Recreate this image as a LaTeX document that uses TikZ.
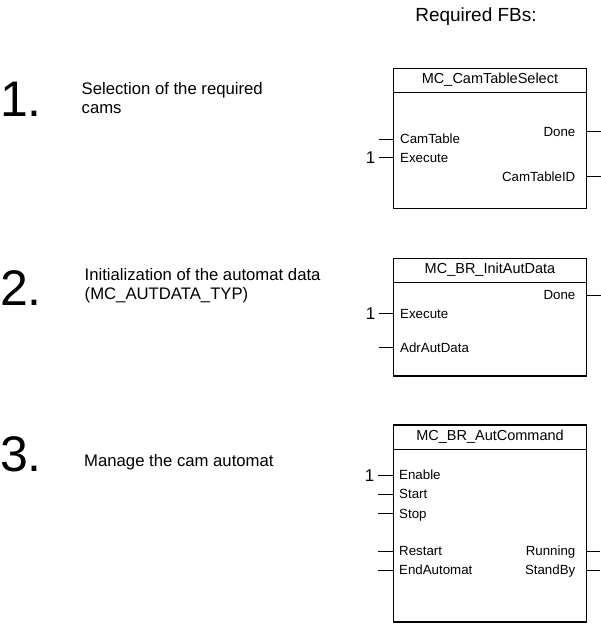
\documentclass[tikz,border=0pt]{standalone}
\usepackage{fontspec}
\setmainfont{Liberation Sans}
\usetikzlibrary{positioning,calc}

\begin{document}
\begin{tikzpicture}
  [ x=1pt, y=-1pt,
    fb/.style={
      rectangle,
      draw,
      line width=1.5pt,
      minimum width=193pt,
      inner sep=0pt},
    fbname/.style={
      inner sep=0pt,
      font=\fontsize{14.5}{16}\selectfont},
    inpin/.style={
      anchor=west,
      inner sep=0pt,
      text height=9.5pt,
      text depth=0pt,
      font=\fontsize{13.3}{15}\selectfont},
    outpin/.style={
      anchor=east,
      inner sep=0pt,
      text height=9.5pt,
      text depth=0pt,
      font=\fontsize{13.3}{15}\selectfont},
    one/.style={
      anchor=east,
      inner sep=0pt,
      text height=12pt,
      text depth=0pt,
      font=\fontsize{17}{19}\selectfont},
    stepnum/.style={
      anchor=base west,
      inner sep=0pt,
      font=\fontsize{50}{52}\selectfont},
    steptext/.style={
      anchor=base west,
      inner sep=0pt,
      font=\fontsize{16.7}{19}\selectfont},
    pinline/.style={
      draw,
      line width=0.9pt},
  ]
  \useasboundingbox (0,0) rectangle (600,624);

  \node (title) [anchor=base, inner sep=0pt, font=\fontsize{19}{21}\selectfont]
    at (476,21) {Required FBs:};

  % step 1
  \node (num1) [stepnum] at (0,116.7) {1.};
  \node (text1a) [steptext] at (81.5,94.3) {Selection of the required};
  \node (text1b) [steptext] at (81.5,113.3) {cams};

  \node (select) [fb, minimum height=140pt] at (490,138.3) {};
  \draw [line width=0.9pt] ($(select.north west)+(0,24.5)$) -- ($(select.north east)+(0,24.5)$);
  \node (selectname) [fbname] at ($(select.north)+(0,12.5)$) {MC\_CamTableSelect};
  \node (camtable) [inpin] at (400,139) {CamTable};
  \node (execute1) [inpin] at (400,157.7) {Execute};
  \node (done1) [outpin] at (575.5,131.7) {Done};
  \node (tableid) [outpin] at (575.5,176.7) {CamTableID};
  \draw [pinline] (select.west |- camtable) -- ++(-14,0);
  \draw [pinline] (select.west |- execute1) -- ++(-14,0) node (one1) [one, left=3pt] {1};
  \draw [pinline] (select.east |- done1) -- ++(14,0);
  \draw [pinline] (select.east |- tableid) -- ++(14,0);

  % step 2
  \node (num2) [stepnum] at (0,305) {2.};
  \node (text2a) [steptext] at (84.5,280) {Initialization of the automat data};
  \node (text2b) [steptext] at (84.5,299) {(MC\_AUTDATA\_TYP)};

  \node (init) [fb, minimum height=117.7pt] at (490,317.2) {};
  \draw [line width=0.9pt] ($(init.north west)+(0,25)$) -- ($(init.north east)+(0,25)$);
  \node (initname) [fbname] at ($(init.north)+(0,12.5)$) {MC\_BR\_InitAutData};
  \node (execute2) [inpin] at (400,313.3) {Execute};
  \node (adr) [inpin] at (400,347.3) {AdrAutData};
  \node (done2) [outpin] at (575.5,295) {Done};
  \draw [pinline] (init.west |- execute2) -- ++(-14,0) node (one2) [one, left=3pt] {1};
  \draw [pinline] (init.west |- adr) -- ++(-14,0);
  \draw [pinline] (init.east |- done2) -- ++(14,0);

  % step 3
  \node (num3) [stepnum] at (0,471.7) {3.};
  \node (text3) [steptext] at (84,466.7) {Manage the cam automat};

  \node (command) [fb, minimum height=196.7pt] at (490,523.4) {};
  \draw [line width=0.9pt] ($(command.north west)+(0,25)$) -- ($(command.north east)+(0,25)$);
  \node (commandname) [fbname] at ($(command.north)+(0,12.5)$) {MC\_BR\_AutCommand};
  \node (enable) [inpin] at (399,475) {Enable};
  \node (start) [inpin] at (399,494) {Start};
  \node (stop) [inpin] at (399,513.3) {Stop};
  \node (restart) [inpin] at (399,551) {Restart};
  \node (endaut) [inpin] at (399,570) {EndAutomat};
  \node (running) [outpin] at (575.5,551) {Running};
  \node (standby) [outpin] at (575.5,570) {StandBy};
  \draw [pinline] (command.west |- enable) -- ++(-15,0) node (one3) [one, left=3pt] {1};
  \draw [pinline] (command.west |- start) -- ++(-15,0);
  \draw [pinline] (command.west |- stop) -- ++(-15,0);
  \draw [pinline] (command.west |- restart) -- ++(-15,0);
  \draw [pinline] (command.west |- endaut) -- ++(-15,0);
  \draw [pinline] (command.east |- running) -- ++(13,0);
  \draw [pinline] (command.east |- standby) -- ++(13,0);
\end{tikzpicture}
\end{document}
